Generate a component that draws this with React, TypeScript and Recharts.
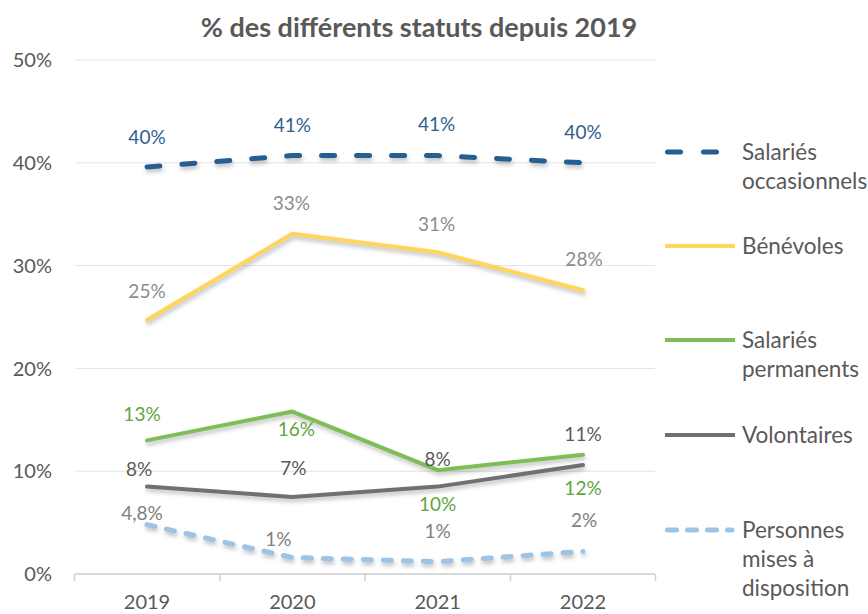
import { LineChart, Line, XAxis, YAxis, CartesianGrid } from 'recharts';

// valeurs (en %)
const years = ['2019', '2020', '2021', '2022'];
const occasionnels = [39.6, 40.7, 40.7, 40.0];
const benevoles = [24.7, 33.1, 31.3, 27.6];
const permanents = [13.0, 15.8, 10.1, 11.6];
const volontaires = [8.5, 7.5, 8.5, 10.6];
const miseADispo = [4.8, 1.6, 1.2, 2.2];

// étiquettes affichées
const occasionnelsLabels = ['40%', '41%', '41%', '40%'];
const benevolesLabels = ['25%', '33%', '31%', '28%'];
const permanentsLabels = ['13%', '16%', '10%', '12%'];
const volontairesLabels = ['8%', '7%', '8%', '11%'];
const miseADispoLabels = ['4,8%', '1%', '1%', '2%'];

const yTicks = [0, 10, 20, 30, 40, 50];

const FONT = 'Lato, "Liberation Sans", sans-serif';
const TEXT = '#595959';
const X_TICK_MARGIN = 21;

const chartData = years.map((year, i) => ({
  year,
  occasionnels: occasionnels[i],
  benevoles: benevoles[i],
  permanents: permanents[i],
  volontaires: volontaires[i],
  miseADispo: miseADispo[i],
}));

// décalage des étiquettes par rapport au point [dx, dy]
const makeLabel = (texts: string[], offsets: number[][], color: string) => (props: any) => {
  const { x, y, index } = props;
  if (x == null || y == null || index == null) return null;
  const [dx, dy] = offsets[index];
  return (
    <text
      x={x + dx}
      y={y + dy}
      fill={color}
      fontSize={19}
      fontFamily={FONT}
      textAnchor="middle"
      dominantBaseline="central"
    >
      {texts[index]}
    </text>
  );
};

// libellé d'année + petits traits aux limites des catégories
const YearTick = (props: any) => {
  const { x, y, payload, index, visibleTicksCount, width } = props;
  const half = width && visibleTicksCount ? width / visibleTicksCount / 2 : 0;
  const axisY = y - X_TICK_MARGIN;
  return (
    <g>
      {half > 0 && (
        <line x1={x - half} x2={x - half} y1={axisY} y2={axisY + 7} stroke="#D0D0D0" strokeWidth={1.5} />
      )}
      {half > 0 && index === visibleTicksCount - 1 && (
        <line x1={x + half} x2={x + half} y1={axisY} y2={axisY + 7} stroke="#D0D0D0" strokeWidth={1.5} />
      )}
      <text x={x} y={y} dy="0.71em" textAnchor="middle" fill={TEXT} fontSize={20} fontFamily={FONT}>
        {payload.value}
      </text>
    </g>
  );
};

const series = [
  { key: 'occasionnels', name: ['Salariés', 'occasionnels'], color: '#255E91', width: 5, dash: '13 22', legendDash: '13 23', labels: occasionnelsLabels, labelColor: '#2F5F8F', offsets: [[0, -30], [0, -31], [-1, -32], [0, -31]], legendY: 152 },
  { key: 'benevoles', name: ['Bénévoles'], color: '#FFD55C', width: 4, dash: undefined, legendDash: undefined, labels: benevolesLabels, labelColor: '#8C8C8C', offsets: [[0, -30], [-1, -31], [-1, -29], [1, -32]], legendY: 246 },
  { key: 'permanents', name: ['Salariés', 'permanents'], color: '#7DBE57', width: 4, dash: undefined, legendDash: undefined, labels: permanentsLabels, labelColor: '#62A43E', offsets: [[-5, -27], [4, 17], [0, 33], [0, 33]], legendY: 340 },
  { key: 'volontaires', name: ['Volontaires'], color: '#707070', width: 4, dash: undefined, legendDash: undefined, labels: volontairesLabels, labelColor: '#5A5A5A', offsets: [[-8, -18], [1, -29], [0, -28], [0, -32]], legendY: 435 },
  { key: 'miseADispo', name: ['Personnes', 'mises à', 'disposition'], color: '#9DC3E6', width: 5, dash: '8 12', legendDash: '9 11', labels: miseADispoLabels, labelColor: '#808080', offsets: [[-5, -12], [-14, -19], [0, -31], [1, -32]], legendY: 530 },
];

const LegendBlock = () => (
  <div style={{ position: 'absolute', left: 0, top: 0 }}>
    {series.map((s) => (
      <div
        key={s.key}
        style={{ position: 'absolute', left: 665, top: s.legendY - 15, width: 203, display: 'flex' }}
      >
        <svg width={77} height={30} style={{ flex: 'none' }}>
          <line
            x1={s.legendDash ? 2.5 : 0}
            x2={s.legendDash ? 67 : 70}
            y1={15}
            y2={15}
            stroke={s.color}
            strokeWidth={s.legendDash ? 5 : 4}
            strokeDasharray={s.legendDash}
            strokeLinecap={s.legendDash ? 'round' : 'butt'}
          />
        </svg>
        <div style={{ fontFamily: FONT, fontSize: 22.5, lineHeight: '29px', color: TEXT, whiteSpace: 'nowrap' }}>
          {s.name.map((n) => (
            <div key={n}>{n}</div>
          ))}
        </div>
      </div>
    ))}
  </div>
);

export default function App() {
  return (
    <div style={{ position: 'absolute', left: 0, top: 0, width: 868, height: 614, background: '#fff' }}>
      <style>{`.recharts-line .recharts-curve{filter:drop-shadow(1.5px 3px 2px rgba(0,0,0,0.25));}`}</style>
      <div
        style={{
          position: 'absolute', left: 0, top: 10, width: 838, textAlign: 'center',
          fontFamily: FONT, fontWeight: 700, fontSize: 27, lineHeight: '34px', color: TEXT,
        }}
      >
        % des différents statuts depuis 2019
      </div>
      <LineChart
        width={868}
        height={614}
        data={chartData}
        margin={{ top: 60, right: 213, bottom: 0, left: 0 }}
      >
        <CartesianGrid horizontal vertical={false} stroke="#E3E3E3" strokeWidth={1} />
        <XAxis
          dataKey="year"
          height={40}
          axisLine={{ stroke: '#D0D0D0', strokeWidth: 1.5 }}
          tickLine={false}
          tickSize={0}
          tickMargin={X_TICK_MARGIN}
          tick={<YearTick />}
          padding={{ left: 72, right: 72 }}
        />
        <YAxis
          width={75}
          domain={[0, 50]}
          ticks={yTicks}
          tickFormatter={(v: number) => `${v}%`}
          axisLine={false}
          tickLine={false}
          tickSize={0}
          tickMargin={23}
          tick={{ fill: TEXT, fontSize: 20, fontFamily: FONT }}
        />
        {series.map((s) => (
          <Line
            key={s.key}
            dataKey={s.key}
            stroke={s.color}
            strokeWidth={s.width}
            strokeDasharray={s.dash}
            strokeLinecap="round"
            strokeLinejoin="round"
            dot={false}
            activeDot={false}
            isAnimationActive={false}
            label={makeLabel(s.labels, s.offsets, s.labelColor)}
          />
        ))}
      </LineChart>
      <LegendBlock />
    </div>
  );
}
